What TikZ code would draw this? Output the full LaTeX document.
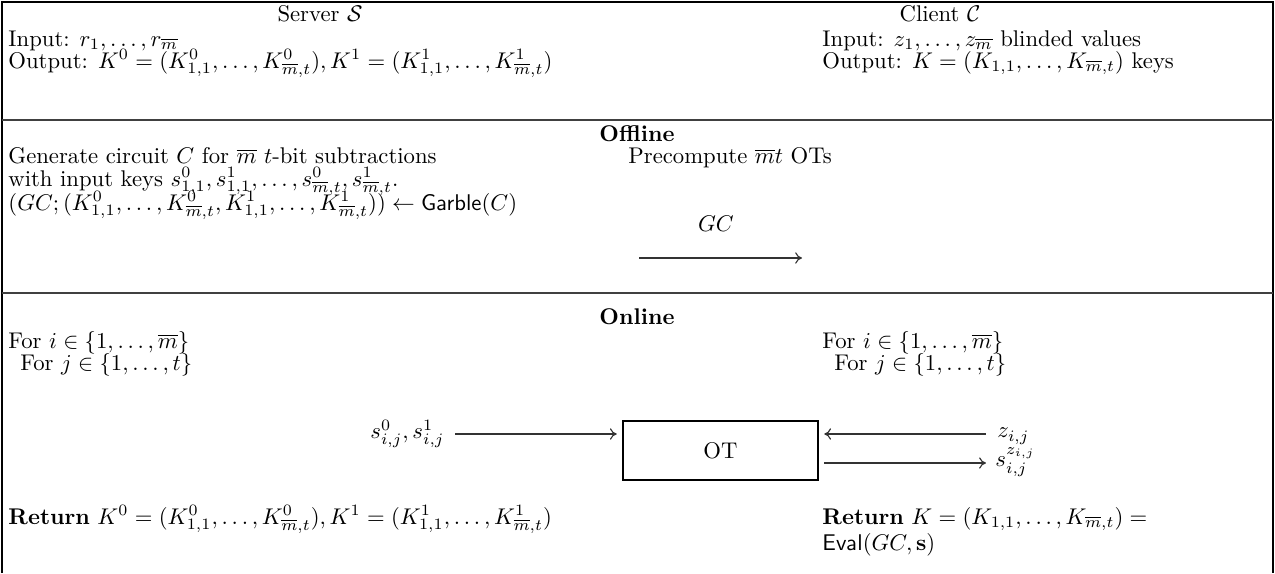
\documentclass[tikz,border=0pt]{standalone}
\usepackage{amsmath,amssymb}
\usetikzlibrary{arrows.meta}
\begin{document}
\begin{tikzpicture}[x=0.4405pt,y=-0.4405pt,
  txt/.style={inner sep=0pt,anchor=base west},
  ctr/.style={inner sep=0pt,anchor=base},
  frameline/.style={line width=0.7pt},
  rule/.style={line width=0.6pt,draw=black!75},
  arr/.style={-{To[length=3pt,width=5pt]},line width=0.5pt,draw=black!80},
  otbox/.style={draw,line width=0.5pt,minimum width=85.9pt,minimum height=26pt,inner sep=0pt}]
\useasboundingbox (0,0) rectangle (1275,573);
% frame
\draw[frameline] (2,573) -- (2,2) -- (1273,2) -- (1273,573);
\draw[rule] (2,120) -- (1273,120);
\draw[rule] (2,293) -- (1273,293);
% header
\node[ctr] (srv) at (320,21) {Server $\mathcal{S}$};
\node[ctr] (cli) at (940,21) {Client $\mathcal{C}$};
\node[txt] (sin) at (8,46) {Input: $r_1,\dots,r_{\overline{m}}$};
\node[txt] (sout) at (8,68) {Output: $K^0=(K^0_{1,1},\dots,K^0_{\overline{m},t}),K^1=(K^1_{1,1},\dots,K^1_{\overline{m},t})$};
\node[txt] (cin) at (822,46) {Input: $z_1,\dots,z_{\overline{m}}$ blinded values};
\node[txt] (cout) at (822,68) {Output: $K=(K_{1,1},\dots,K_{\overline{m},t})$ keys};
% offline
\node[ctr] (off) at (637,141) {\textbf{Offline}};
\node[txt] (gen1) at (8,163) {Generate circuit $C$ for $\overline{m}$ $t$-bit subtractions};
\node[txt] (gen2) at (8,186) {with input keys $s^0_{1,1},s^1_{1,1},\dots,s^0_{\overline{m},t},s^1_{\overline{m},t}$.};
\node[txt] (gen3) at (8,210) {$(GC;(K^0_{1,1},\dots,K^0_{\overline{m},t},K^1_{1,1},\dots,K^1_{\overline{m},t}))\leftarrow\mathsf{Garble}(C)$};
\node[txt] (pre) at (628,163) {Precompute $\overline{m}t$ OTs};
\node[ctr] (gclab) at (716,231) {$GC$};
\coordinate (gcA) at (639,258);
\coordinate (gcB) at (802,258);
\draw[arr] (gcA) -- (gcB);
% online
\node[ctr] (on) at (637,324) {\textbf{Online}};
\node[txt] (fi) at (8,348) {For $i\in\{1,\dots,\overline{m}\}$};
\node[txt] (fj) at (20,370) {For $j\in\{1,\dots,t\}$};
\node[txt] (cfi) at (822,348) {For $i\in\{1,\dots,\overline{m}\}$};
\node[txt] (cfj) at (834,370) {For $j\in\{1,\dots,t\}$};
\node[otbox] (ot) at (720.5,450.5) {OT};
\node[inner sep=0pt,anchor=east] (sij) at (445,434) {$s^0_{i,j},s^1_{i,j}$};
\node[inner sep=0pt,anchor=west] (zij) at (997,436) {$z_{i,j}$};
\node[inner sep=0pt,anchor=west] (szij) at (995,462) {$s^{z_{i,j}}_{i,j}$};
\draw[arr] ([xshift=4.5pt]sij.east |- 0,434) -- ([xshift=-2.5pt]ot.west |- 0,434);
\draw[arr] ([xshift=-5pt]zij.west |- 0,434) -- ([xshift=2.5pt]ot.east |- 0,434);
\draw[arr] ([xshift=2.5pt]ot.east |- 0,463) -- ([xshift=-4pt]szij.west |- 0,463);
\node[txt] (sret) at (8,524) {\textbf{Return} $K^0=(K^0_{1,1},\dots,K^0_{\overline{m},t}),K^1=(K^1_{1,1},\dots,K^1_{\overline{m},t})$};
\node[txt] (cret) at (822,524) {\textbf{Return} $K=(K_{1,1},\dots,K_{\overline{m},t})=$};
\node[txt] (eval) at (822,550) {$\mathsf{Eval}(GC,\mathbf{s})$};
\end{tikzpicture}
\end{document}
